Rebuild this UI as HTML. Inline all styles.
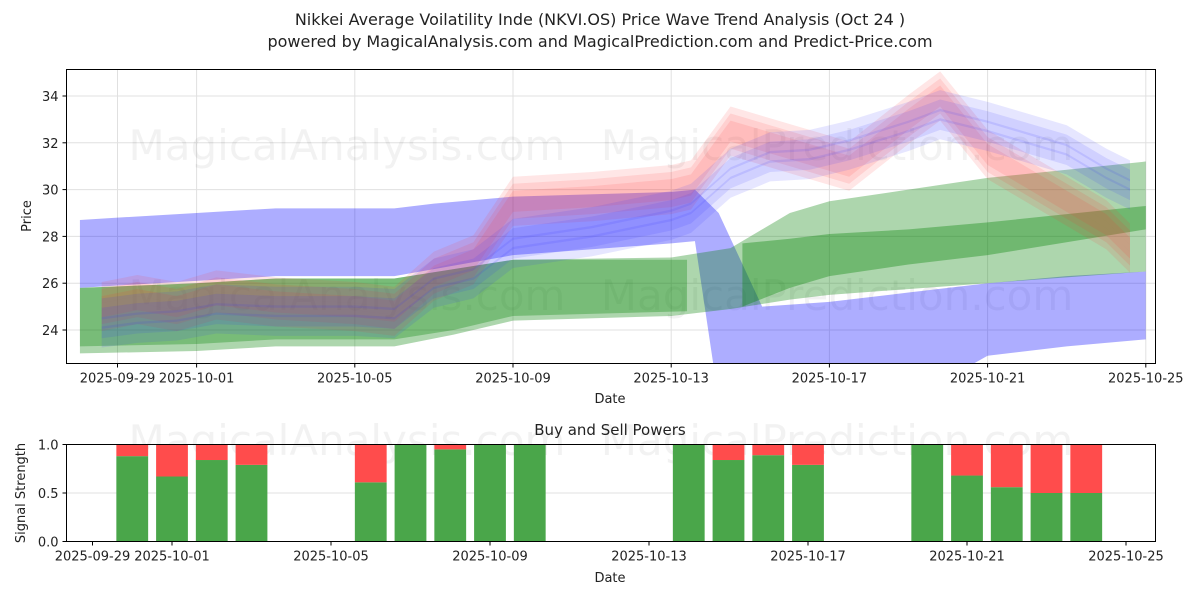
<!DOCTYPE html>
<html><head><meta charset="utf-8"><style>
body{margin:0;background:#fff}
svg{display:block;font-family:"DejaVu Sans","Liberation Sans",sans-serif}
</style></head><body>
<svg id="c" width="1200" height="600" xmlns="http://www.w3.org/2000/svg">
<text x="600" y="25" font-size="16" text-anchor="middle" fill="#222">Nikkei Average Voilatility Inde (NKVI.OS) Price Wave Trend Analysis (Oct 24 )</text>
<text x="600" y="47" font-size="16" text-anchor="middle" fill="#222">powered by MagicalAnalysis.com and MagicalPrediction.com and Predict-Price.com</text>
<g id="topg"></g>
<g id="bot"></g>
</svg>
<script>
// ---- data ----
const dateTicks = ["2025-09-29","2025-10-01","2025-10-05","2025-10-09","2025-10-13","2025-10-17","2025-10-21","2025-10-25"];
const dateTickDays = [0,2,6,10,14,18,22,26];
const priceTicks = [24,26,28,30,32,34];
// wide blue band
const blueBandDays = [-0.95,0,2,4,7,8,10,14,14.6,15.2,16.3,18,20,22,24,26];
const blueBandHigh = [28.7,28.8,29.0,29.2,29.2,29.4,29.7,29.9,30.0,29.0,25.0,25.2,25.6,26.0,26.3,26.5];
const blueBandLow  = [25.8,25.9,26.1,26.3,26.3,26.6,27.2,27.7,27.8,21.0,21.0,21.0,21.0,22.9,23.3,23.6];
// green bands
const greenADays = [-0.95,2,4,7,8.5,10,14,15.5,17,18,22,26];
const greenAHigh = [25.8,26.0,26.2,26.2,26.6,27.0,27.1,27.5,29.0,29.5,30.5,31.2];
const greenALow  = [23.0,23.1,23.3,23.3,23.8,24.4,24.6,24.9,25.3,25.5,26.0,26.5];
const greenBDays = [-0.95,2,4,7,8.5,10,14.4];
const greenBHigh = [25.8,26.0,26.2,26.2,26.6,27.0,27.0];
const greenBLow  = [23.3,23.4,23.6,23.6,24.0,24.6,24.8];
const greenCDays = [15.8,17,18,20,22,26];
const greenCHigh = [27.7,27.9,28.1,28.3,28.6,29.3];
const greenCLow  = [25.0,25.8,26.3,26.8,27.2,28.3];
// wave centre lines
const waveDays = [-0.4,0.5,1.5,2.5,4,6,7,8,9,10,12,14,14.5,15.5,16.5,17.5,18.5,20,20.8,22,23,24,25,25.6];
const redWave  = [25.0,25.3,25.0,25.5,25.2,25.0,24.8,26.3,27.0,29.5,29.7,30.0,30.2,32.5,32.0,31.5,31.0,33.0,34.0,31.5,30.5,29.5,28.5,27.5];
const blueWave = [24.6,24.8,24.9,25.2,25.1,25.1,25.0,26.3,26.7,28.0,28.5,29.2,29.5,31.0,31.7,31.8,32.2,33.0,33.5,33.0,32.5,32.0,31.0,30.5];
// buy/sell
const barDays = [1,2,3,4,7,8,9,10,11,15,16,17,18,21,22,23,24,25];
const buyPower = [0.88,0.67,0.84,0.79,0.61,1.0,0.95,1.0,1.0,1.0,0.84,0.89,0.79,1.0,0.68,0.56,0.5,0.5];
const sigTicks = [0,0.5,1.0];

const NS="http://www.w3.org/2000/svg";
function mk(p,t,a){const e=document.createElementNS(NS,t);for(const k in a)e.setAttribute(k,a[k]);p.appendChild(e);return e;}
const topG=document.getElementById('topg'),bot=document.getElementById('bot');
const L=66.5,R=1155.5,T1=69.5,B1=363.5,T2=444.5,B2=541.5;
const x1=d=>117.5+d*39.55;
const y1=p=>330-(p-24)*23.4;
const x2=d=>92.5+d*39.75;
const y2=v=>B2-v*(B2-T2);

let cp=mk(topG,'clipPath',{id:'cl'});mk(cp,'rect',{x:L,y:T1,width:R-L,height:B1-T1});
dateTickDays.forEach((d,i)=>{
  let g=mk(topG,'line',{x1:x1(d),x2:x1(d),y1:T1,y2:B1,stroke:'#e0e0e0'});
  
  
  mk(topG,'line',{x1:x1(d),x2:x1(d),y1:B1,y2:B1+4,stroke:'#000'});
  let t=mk(topG,'text',{x:x1(d),y:B1+19,'font-size':13,'text-anchor':'middle',fill:'#222'});t.textContent=dateTicks[i];
  
  
});
priceTicks.forEach(p=>{
  let g=mk(topG,'line',{x1:L,x2:R,y1:y1(p),y2:y1(p),stroke:'#e0e0e0'});
  
  
  mk(topG,'line',{x1:L-4,x2:L,y1:y1(p),y2:y1(p),stroke:'#000'});
  let t=mk(topG,'text',{x:L-8,y:y1(p)+5,'font-size':13,'text-anchor':'end',fill:'#222'});t.textContent=p;
  
  
});
[[347,160],[837,160],[347,310],[837,310]].forEach((w,i)=>{
  let t=mk(topG,'text',{x:w[0],y:w[1],'font-size':42,'text-anchor':'middle',fill:'#000','fill-opacity':0.05});
  t.textContent=i%2?'MagicalPrediction.com':'MagicalAnalysis.com';
  
  
});
const plot=mk(topG,'g',{'clip-path':'url(#cl)'});
function band(days,hi,lo,fill,op,name){
  let pts=days.map((d,i)=>x1(d)+','+y1(hi[i]));
  for(let i=days.length-1;i>=0;i--)pts.push(x1(days[i])+','+y1(lo[i]));
  let e=mk(plot,'polygon',{points:pts.join(' '),fill:fill,'fill-opacity':op});
  
  
}
band(blueBandDays,blueBandHigh,blueBandLow,'#0000ff',0.32,'blue-range-band');
band(greenADays,greenAHigh,greenALow,'#008000',0.32,'green-range-band');
band(greenBDays,greenBHigh,greenBLow,'#008000',0.3,'green-range-band-early');
band(greenCDays,greenCHigh,greenCLow,'#008000',0.35,'green-range-band-late');
function ribbon(days,vals,off,w,fill,op,name){
  band(days,vals.map(v=>v+off+w),vals.map(v=>v+off-w),fill,op,name);
}
[-0.6,-0.3,0,0.3,0.6].forEach(o=>ribbon(waveDays,redWave,o,0.45,'#ff3030',0.12,'red-wave-ribbon'));
[-0.9,-0.5,-0.1,0.3].forEach(o=>ribbon(waveDays,blueWave,o,0.45,'#3030ff',0.12,'blue-wave-ribbon'));
mk(topG,'rect',{x:L,y:T1,width:R-L,height:B1-T1,fill:'none',stroke:'#000'});
let t;
t=mk(topG,'text',{x:610,y:403,'font-size':13,'text-anchor':'middle',fill:'#222'});t.textContent='Date';


t=mk(topG,'text',{x:0,y:0,'font-size':13,'text-anchor':'middle',fill:'#222',transform:'translate(31,216) rotate(-90)'});t.textContent='Price';



[[347,455],[837,455]].forEach((w,i)=>{
  let t=mk(bot,'text',{x:w[0],y:w[1],'font-size':42,'text-anchor':'middle',fill:'#000','fill-opacity':0.05});
  t.textContent=i?'MagicalPrediction.com':'MagicalAnalysis.com';
  
  
});
sigTicks.forEach(v=>{
  if(v===0.5){let g=mk(bot,'line',{x1:L,x2:R,y1:y2(v),y2:y2(v),stroke:'#e0e0e0'});
    
    }
  mk(bot,'line',{x1:L-4,x2:L,y1:y2(v),y2:y2(v),stroke:'#000'});
  let t=mk(bot,'text',{x:L-8,y:y2(v)+5,'font-size':13,'text-anchor':'end',fill:'#222'});t.textContent=v.toFixed(1);
  
  
});
barDays.forEach((d,i)=>{
  const bw=0.8*39.75,xl=x2(d)-bw/2;
  let g=mk(bot,'rect',{x:xl,y:y2(buyPower[i]),width:bw,height:y2(0)-y2(buyPower[i]),fill:'#4aa64a'});
  
  
  let r=mk(bot,'rect',{x:xl,y:y2(1),width:bw,height:y2(buyPower[i])-y2(1),fill:'#ff4c4c'});
  
  
});
dateTickDays.forEach((d,i)=>{
  mk(bot,'line',{x1:x2(d),x2:x2(d),y1:B2,y2:B2+4,stroke:'#000'});
  let t=mk(bot,'text',{x:x2(d),y:B2+19,'font-size':13,'text-anchor':'middle',fill:'#222'});t.textContent=dateTicks[i];
  
  
});
mk(bot,'rect',{x:L,y:T2,width:R-L,height:B2-T2,fill:'none',stroke:'#000'});
t=mk(bot,'text',{x:610,y:435,'font-size':15,'text-anchor':'middle',fill:'#222'});t.textContent='Buy and Sell Powers';


t=mk(bot,'text',{x:610,y:582,'font-size':13,'text-anchor':'middle',fill:'#222'});t.textContent='Date';


t=mk(bot,'text',{x:0,y:0,'font-size':13,'text-anchor':'middle',fill:'#222',transform:'translate(25,493) rotate(-90)'});t.textContent='Signal Strength';


</script>
</body></html>
